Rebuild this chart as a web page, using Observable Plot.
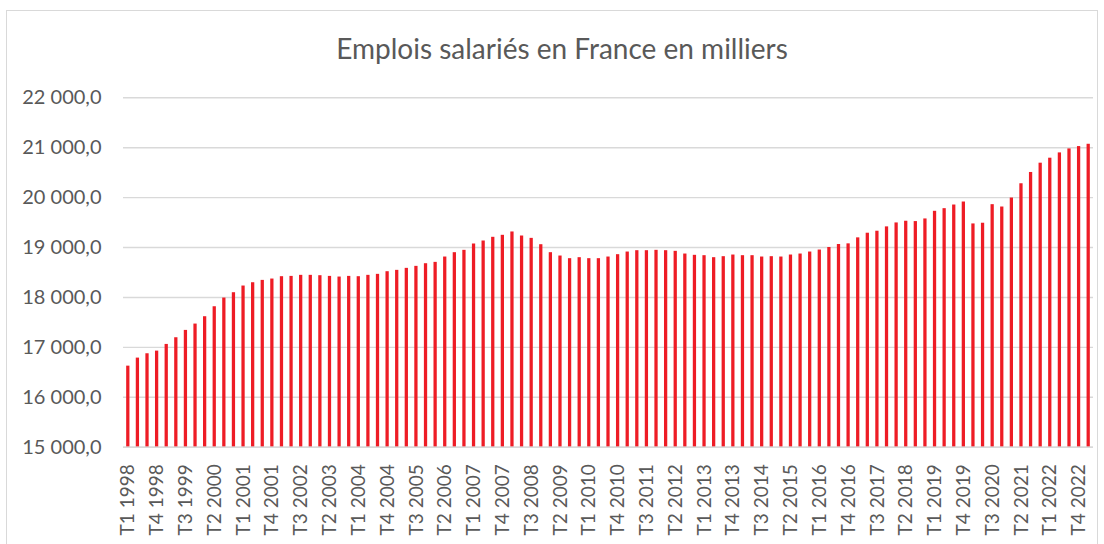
<!DOCTYPE html>
<html><head><meta charset="utf-8">
<script src="https://cdn.jsdelivr.net/npm/d3@7"></script>
<script src="https://cdn.jsdelivr.net/npm/@observablehq/plot@0.6"></script>
<style>
body{margin:0;background:#fff;}
#wrap{position:relative;width:1104px;height:544px;overflow:hidden;font-family:Lato,sans-serif;}
#frame{position:absolute;left:6px;top:10px;width:1092px;height:600px;border:1px solid #d9d9d9;box-sizing:border-box;}
#title{position:absolute;left:562px;top:33px;transform:translateX(-50%);white-space:nowrap;font-size:28px;line-height:30px;color:#595959;}
#chart{position:absolute;left:0;top:0;}
</style></head>
<body>
<div id="wrap"><div id="frame"></div><div id="title">Emplois salariés en France en milliers</div><div id="chart"></div></div>
<script>
const years = d3.range(1998, 2024);
const quarters = ["T1", "T2", "T3", "T4"];
const categories = [];
for (const y of years) for (const q of quarters) if (categories.length < 101) categories.push(q + " " + y);
const values = [
16624,16785,16872,16925,17059,17193,17340,17467,17614,17814,
17988,18095,18229,18295,18342,18369,18416,18422,18443,18443,
18436,18422,18409,18422,18416,18443,18463,18516,18543,18583,
18623,18676,18703,18810,18897,18944,19071,19131,19205,19245,
19312,19231,19184,19057,18897,18830,18777,18797,18777,18777,
18810,18857,18910,18937,18937,18944,18937,18924,18870,18844,
18837,18797,18817,18850,18837,18837,18810,18817,18810,18850,
18870,18910,18950,19001,19061,19074,19194,19287,19327,19414,
19493,19527,19520,19573,19726,19779,19852,19912,19473,19487,
19859,19812,19992,20278,20504,20690,20790,20896,20976,21023,
21069];
const tickLabels = categories.filter((d, i) => i % 3 === 0);
const yTicks = [15000, 16000, 17000, 18000, 19000, 20000, 21000, 22000];
const data = categories.map((q, i) => ({q, v: values[i]}));
const fr = d3.formatLocale({decimal: ",", thousands: " ", grouping: [3], currency: ["", " €"]});
const fmt = fr.format(",.1f");

const chart = Plot.plot({
  width: 1104, height: 544,
  marginTop: 97.3, marginBottom: 97.3, marginLeft: 123, marginRight: 11,
  style: {fontFamily: "Lato, sans-serif", fontSize: "19px", color: "#595959", background: "transparent", overflow: "visible"},
  x: {type: "band", domain: categories, paddingInner: 0.66, paddingOuter: 0.33, axis: null},
  y: {domain: [15000, 22000], axis: null},
  marks: [
    Plot.gridY(yTicks, {stroke: "#d9d9d9", strokeOpacity: 1, strokeWidth: 1.4}),
    Plot.barY(data, {x: "q", y1: 15000, y2: "v", fill: "#ee1c25"}),
    Plot.ruleY([15000], {stroke: "#d9d9d9", strokeWidth: 1.4}),
    Plot.axisY(yTicks, {tickSize: 0, tickPadding: 22, tickFormat: fmt, label: null, fill: "#595959", fontSize: 20}),
    Plot.axisX(tickLabels, {tickSize: 0, tickPadding: 17, tickRotate: -90, label: null, fill: "#595959"})
  ]
});
document.getElementById("chart").appendChild(chart);
</script>
</body></html>
